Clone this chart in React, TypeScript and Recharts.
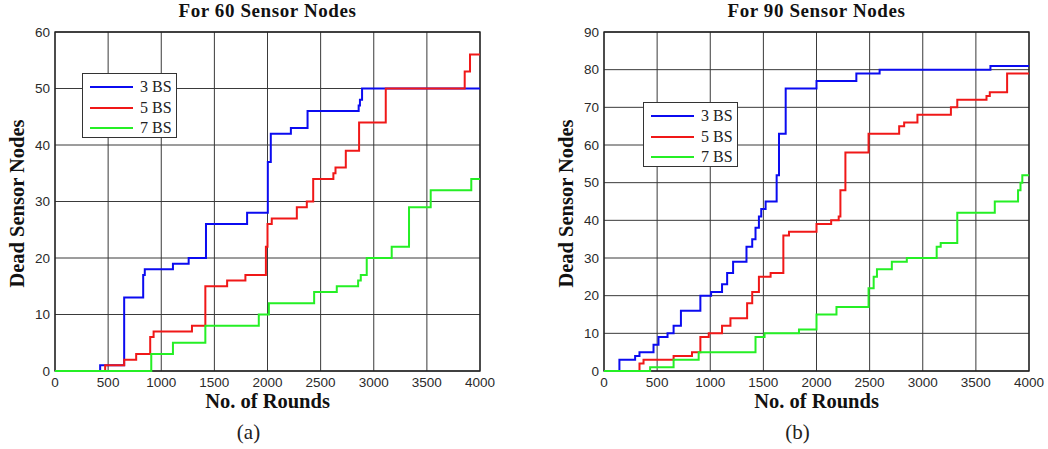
import React from 'react';
import { LineChart, Line, XAxis, YAxis, CartesianGrid, ReferenceArea } from 'recharts';

const roundTicks = [0, 500, 1000, 1500, 2000, 2500, 3000, 3500, 4000];
const ticks60 = [0, 10, 20, 30, 40, 50, 60];
const ticks90 = [0, 10, 20, 30, 40, 50, 60, 70, 80, 90];

const seriesNames = ['3 BS', '5 BS', '7 BS'];
const seriesColors = ['#0b0bf0', '#f01818', '#25ef25'];

// (a) 60 sensor nodes
const roundsA3 = [0, 425, 651, 830, 845, 1110, 1258, 1421, 1808, 2003, 2031, 2220, 2377, 2858, 2870, 2890, 4000];
const deadA3 = [0, 1, 13, 17, 18, 19, 20, 26, 28, 37, 42, 43, 46, 47, 48, 50, 50];
const roundsA5 = [0, 472, 651, 764, 896, 928, 1289, 1415, 1620, 1792, 1985, 2000, 2040, 2276, 2370, 2430, 2620, 2640, 2737, 2862, 3113, 3856, 3906, 4000];
const deadA5 = [0, 1, 2, 3, 6, 7, 8, 15, 16, 17, 22, 26, 27, 29, 30, 34, 35, 36, 39, 44, 50, 53, 56, 56];
const roundsA7 = [0, 906, 1110, 1415, 1918, 2013, 2439, 2652, 2853, 2878, 2934, 3169, 3332, 3536, 3918, 4000];
const deadA7 = [0, 3, 5, 8, 10, 12, 14, 15, 16, 17, 20, 22, 29, 32, 34, 34];

// (b) 90 sensor nodes
const roundsB3 = [0, 145, 293, 334, 466, 513, 598, 655, 724, 907, 1008, 1111, 1159, 1215, 1341, 1395, 1426, 1458, 1480, 1521, 1625, 1647, 1710, 2000, 2375, 2594, 3637, 4000];
const deadB3 = [0, 3, 4, 5, 7, 9, 10, 12, 16, 20, 21, 23, 26, 29, 33, 35, 38, 41, 43, 45, 52, 63, 75, 77, 79, 80, 81, 81];
const roundsB5 = [0, 334, 372, 655, 828, 907, 986, 1111, 1190, 1347, 1395, 1458, 1568, 1688, 1741, 2000, 2138, 2209, 2225, 2272, 2490, 2778, 2825, 2950, 3265, 3325, 3600, 3631, 3794, 4000];
const deadB5 = [0, 2, 3, 4, 5, 9, 10, 12, 14, 18, 21, 25, 26, 36, 37, 39, 40, 41, 48, 58, 63, 65, 66, 68, 70, 72, 73, 74, 79, 79];
const roundsB7 = [0, 434, 655, 891, 1426, 1511, 1835, 2000, 2188, 2490, 2538, 2569, 2709, 2850, 3131, 3169, 3325, 3678, 3897, 3920, 3937, 4000];
const deadB7 = [0, 1, 3, 5, 9, 10, 11, 15, 17, 22, 25, 27, 29, 30, 33, 34, 42, 45, 48, 50, 52, 52];

const toPoints = (rounds: number[], dead: number[]) => rounds.map((x, i) => ({ x, y: dead[i] }));

const serif = '"Liberation Serif", "Times New Roman", serif';
const sans = '"Liberation Sans", Arial, sans-serif';

function LegendBox({ left, top }: { left: number; top: number }) {
  return (
    <div style={{ position: 'absolute', left, top, width: 95, height: 65, boxSizing: 'border-box', border: '1.5px solid #333', background: '#fff', paddingTop: 3 }}>
      {seriesNames.map((n, i) => (
        <div key={n} style={{ display: 'flex', alignItems: 'center', height: 20.5 }}>
          <svg width={50} height={6} style={{ marginLeft: 7 }}>
            <line x1={0} y1={3} x2={43} y2={3} stroke={seriesColors[i]} strokeWidth={2} />
          </svg>
          <span style={{ fontFamily: serif, fontSize: 16, color: '#222' }}>{n}</span>
        </div>
      ))}
    </div>
  );
}

type PanelProps = {
  left: number;
  title: string;
  letter: string;
  yMax: number;
  yTicks: number[];
  series: { x: number; y: number }[][];
  legendLeft: number;
  legendTop: number;
};

function Panel({ left, title, letter, yMax, yTicks, series, legendLeft, legendTop }: PanelProps) {
  const plotCenter = 55 + 212.5;
  const bold = { fontFamily: serif, fontWeight: 'bold' as const, color: '#111', textAlign: 'center' as const };
  return (
    <div style={{ position: 'absolute', left, top: 0, width: 520, height: 449 }}>
      <div style={{ ...bold, position: 'absolute', left: plotCenter - 150, width: 300, top: 0, fontSize: 19, letterSpacing: 0.6 }}>
        {title}
      </div>
      <LineChart width={520} height={400} margin={{ top: 32, right: 40, left: 0, bottom: 0 }}>
        <CartesianGrid stroke="#3a3a3a" strokeWidth={1} horizontalValues={yTicks} verticalValues={roundTicks} />
        <XAxis
          dataKey="x"
          type="number"
          domain={[0, 4000]}
          ticks={roundTicks}
          allowDataOverflow
          height={29}
          tickLine={false}
          axisLine={false}
          tickSize={4}
          tick={{ fontFamily: sans, fontSize: 13.5, fill: '#2a2a2a' }}
        />
        <YAxis
          type="number"
          domain={[0, yMax]}
          ticks={yTicks}
          width={55}
          tickLine={false}
          axisLine={false}
          tickSize={3}
          tick={{ fontFamily: sans, fontSize: 13.5, fill: '#2a2a2a' }}
        />
        {series.map((pts, i) => (
          <Line
            key={seriesNames[i]}
            data={pts}
            dataKey="y"
            name={seriesNames[i]}
            type="stepAfter"
            stroke={seriesColors[i]}
            strokeWidth={2}
            dot={false}
            isAnimationActive={false}
          />
        ))}
        <ReferenceArea x1={0} x2={4000} y1={0} y2={yMax} fill="none" stroke="#222" strokeWidth={1.3} />
      </LineChart>
      <LegendBox left={legendLeft} top={legendTop} />
      <div style={{ ...bold, position: 'absolute', left: plotCenter - 150, width: 300, top: 390, fontSize: 20.5 }}>
        No. of Rounds
      </div>
      <div style={{ ...bold, position: 'absolute', left: 17 - 150, width: 300, top: 204 - 12, fontSize: 20.5, transform: 'rotate(-90deg)' }}>
        Dead Sensor Nodes
      </div>
      <div style={{ position: 'absolute', left: plotCenter - 19 - 100, width: 200, top: 420, textAlign: 'center', fontFamily: serif, fontSize: 21, color: '#222' }}>
        {letter}
      </div>
    </div>
  );
}

export default function App() {
  const seriesA = [toPoints(roundsA3, deadA3), toPoints(roundsA5, deadA5), toPoints(roundsA7, deadA7)];
  const seriesB = [toPoints(roundsB3, deadB3), toPoints(roundsB5, deadB5), toPoints(roundsB7, deadB7)];
  return (
    <div style={{ position: 'absolute', left: 0, top: 0, width: 1048, height: 449, background: '#fff', overflow: 'hidden' }}>
      <Panel left={0} title="For 60 Sensor Nodes" letter="(a)" yMax={60} yTicks={ticks60} series={seriesA} legendLeft={82} legendTop={73} />
      <Panel left={549} title="For 90 Sensor Nodes" letter="(b)" yMax={90} yTicks={ticks90} series={seriesB} legendLeft={94} legendTop={102} />
    </div>
  );
}
